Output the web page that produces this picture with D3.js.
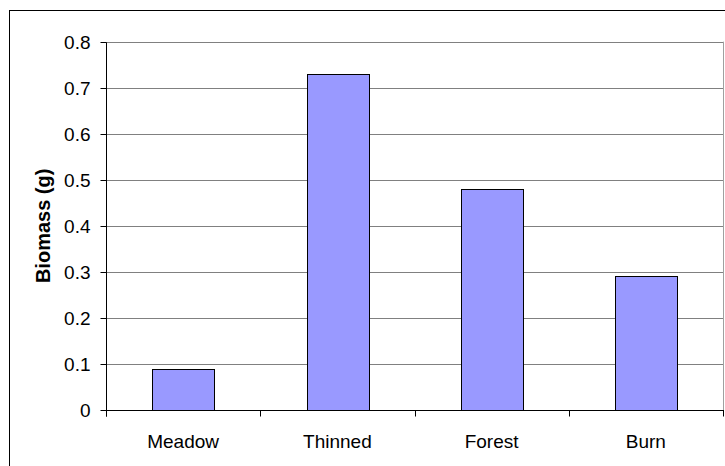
<!DOCTYPE html>
<html>
<head>
<meta charset="utf-8">
<script src="https://cdn.jsdelivr.net/npm/d3@7"></script>
<style>
  html, body { margin: 0; padding: 0; background: #fff; }
  svg { display: block; font-family: "Liberation Sans", Arial, sans-serif; }
</style>
</head>
<body>
<svg id="chart" width="725" height="466"></svg>
<script>
// Biomass by site treatment
const categories = ["Meadow", "Thinned", "Forest", "Burn"];
const biomass = [0.09, 0.73, 0.48, 0.29];
const yTicks = [0, 0.1, 0.2, 0.3, 0.4, 0.5, 0.6, 0.7, 0.8];
const yLabel = "Biomass (g)";

const svg = d3.select("#chart");
const W = 725, H = 466;
const plot = { left: 106, right: 723, top: 41.7, bottom: 410 };
const fontSize = 19;

// Outer frame of the chart area
svg.append("rect")
  .attr("x", 9.5).attr("y", 10.5)
  .attr("width", W + 10).attr("height", H + 10)
  .attr("fill", "#fff").attr("stroke", "#000").attr("stroke-width", 1);

const x = d3.scaleBand()
  .domain(categories)
  .range([plot.left, plot.right])
  .paddingInner(0.6)
  .paddingOuter(0.3);

const y = d3.scaleLinear()
  .domain([0, 0.8])
  .range([plot.bottom, plot.top]);

// Plot area border (light gray on right)
svg.append("line")
  .attr("x1", plot.right + 0.5).attr("x2", plot.right + 0.5)
  .attr("y1", y(0.8)).attr("y2", plot.bottom)
  .attr("stroke", "#a0a0a0").attr("stroke-width", 1);

// Horizontal gridlines
svg.append("g")
  .selectAll("line")
  .data(yTicks.filter(d => d > 0))
  .join("line")
  .attr("x1", plot.left).attr("x2", plot.right)
  .attr("y1", d => Math.round(y(d)) + 0.5)
  .attr("y2", d => Math.round(y(d)) + 0.5)
  .attr("stroke", "#808080").attr("stroke-width", 1);

// Bars
svg.append("g")
  .selectAll("rect")
  .data(categories.map((c, i) => ({ c, v: biomass[i] })))
  .join("rect")
  .attr("x", d => Math.round(x(d.c)) + 0.5)
  .attr("y", d => Math.round(y(d.v)) + 0.5)
  .attr("width", Math.round(x.bandwidth()))
  .attr("height", d => Math.round(y(0)) - Math.round(y(d.v)))
  .attr("fill", "#9999ff")
  .attr("stroke", "#000").attr("stroke-width", 1);

// Y axis
const yAxis = d3.axisLeft(y)
  .tickValues(yTicks)
  .tickFormat(d => d === 0 ? "0" : d3.format(".1f")(d))
  .tickSize(6)
  .tickPadding(10);

const gy = svg.append("g")
  .attr("transform", `translate(${plot.left + 0.5},0.5)`)
  .call(yAxis)
  .attr("font-size", fontSize)
  .attr("font-family", "Liberation Sans, Arial, sans-serif");
gy.select(".domain").attr("stroke", "#000").attr("d", `M0,${Math.round(y(0.8))}V${Math.round(plot.bottom) + 6}`);
gy.selectAll(".tick line").attr("stroke", "#000");
gy.selectAll(".tick").attr("transform", d => `translate(0,${Math.round(y(d))})`);
gy.selectAll(".tick text").attr("fill", "#000");

// X axis with tick marks on category boundaries
const gx = svg.append("g")
  .attr("transform", `translate(0,${Math.round(plot.bottom) + 0.5})`);
gx.append("line")
  .attr("x1", plot.left).attr("x2", plot.right + 1)
  .attr("stroke", "#000").attr("stroke-width", 1);
const step = x.step();
const boundaries = d3.range(categories.length + 1).map(i => plot.left + i * step);
gx.selectAll("line.tk")
  .data(boundaries)
  .join("line")
  .attr("class", "tk")
  .attr("x1", d => Math.round(d) + 0.5).attr("x2", d => Math.round(d) + 0.5)
  .attr("y1", 0).attr("y2", 6)
  .attr("stroke", "#000");
gx.selectAll("text")
  .data(categories)
  .join("text")
  .attr("x", d => x(d) + x.bandwidth() / 2)
  .attr("y", 37)
  .attr("text-anchor", "middle")
  .attr("font-size", fontSize)
  .attr("fill", "#000")
  .text(d => d);

// Y axis title
svg.append("text")
  .attr("transform", `translate(49.5,${(plot.top + plot.bottom) / 2}) rotate(-90)`)
  .attr("text-anchor", "middle")
  .attr("font-size", 20)
  .attr("font-weight", "bold")
  .attr("fill", "#000")
  .text(yLabel);
</script>
</body>
</html>
